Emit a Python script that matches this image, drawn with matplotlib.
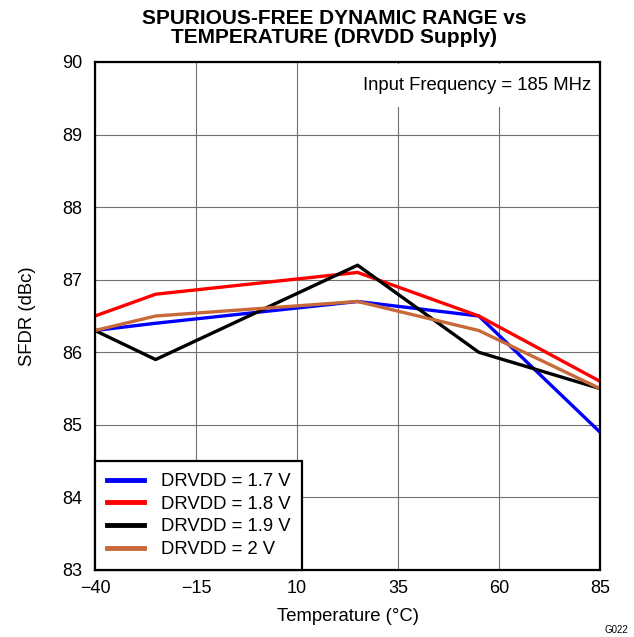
import matplotlib
matplotlib.use('Agg')
import matplotlib.pyplot as plt

temps = [-40, -25, 25, 55, 85]
sfdr_17 = [86.3, 86.4, 86.7, 86.5, 84.9]
sfdr_18 = [86.5, 86.8, 87.1, 86.5, 85.6]
sfdr_19 = [86.3, 85.9, 87.2, 86.0, 85.5]
sfdr_20 = [86.3, 86.5, 86.7, 86.3, 85.5]
labels = ['DRVDD = 1.7 V', 'DRVDD = 1.8 V', 'DRVDD = 1.9 V', 'DRVDD = 2 V']
colors = ['#0000FF', '#FF0000', '#000000', '#C8693A']
xticks = [-40, -15, 10, 35, 60, 85]
xtick_labels = ['\u221240', '\u221215', '10', '35', '60', '85']

plt.rcParams['font.family'] = ['Liberation Sans', 'DejaVu Sans']

fig = plt.figure(figsize=(6.34, 6.37), dpi=100)
ax = fig.add_axes([95/634, 1 - 570/637, 505/634, 508/637])

for ys, lab, c in zip([sfdr_17, sfdr_18, sfdr_19, sfdr_20], labels, colors):
    ax.plot(temps, ys, color=c, lw=2.4, label=lab, zorder=3)

ax.set_xlim(-40, 85)
ax.set_ylim(83, 90)
ax.set_xticks(xticks)
ax.set_xticklabels(xtick_labels)
ax.set_yticks(range(83, 91))
ax.tick_params(length=0, labelsize=13)
ax.tick_params(axis='x', pad=7)
ax.tick_params(axis='y', pad=9)
ax.grid(True, color='#707070', lw=0.8, zorder=0)
for s in ax.spines.values():
    s.set_linewidth(1.6)
    s.set_zorder(10)

ax.set_xlabel('Temperature (\u00b0C)', fontsize=13.3, labelpad=8)
ax.set_ylabel('SFDR (dBc)', fontsize=13.3, labelpad=19)
ax.set_title('SPURIOUS-FREE DYNAMIC RANGE vs\nTEMPERATURE (DRVDD Supply)',
             fontsize=15, fontweight='bold', linespacing=0.95, pad=14, x=0.473)

# white box hides the grid behind the note
ax.text(0.982, 0.945, 'Input Frequency = 185 MHz', transform=ax.transAxes,
        ha='right', va='baseline', fontsize=13.3, zorder=4,
        bbox=dict(facecolor='white', edgecolor='none', pad=9))

leg = ax.legend(loc='lower left', fontsize=13.3, borderaxespad=0, fancybox=False,
                framealpha=1, edgecolor='black', handlelength=2.0, labelspacing=0.3,
                borderpad=0.65, handletextpad=0.9)
leg.get_frame().set_linewidth(1.6)
leg.set_zorder(11)
for h in leg.get_lines():
    h.set_linewidth(3.5)

fig.text(628/634, 1 - 630/637, 'G022', fontsize=7, ha='right', va='center')

fig.savefig('out.png', dpi=100)
